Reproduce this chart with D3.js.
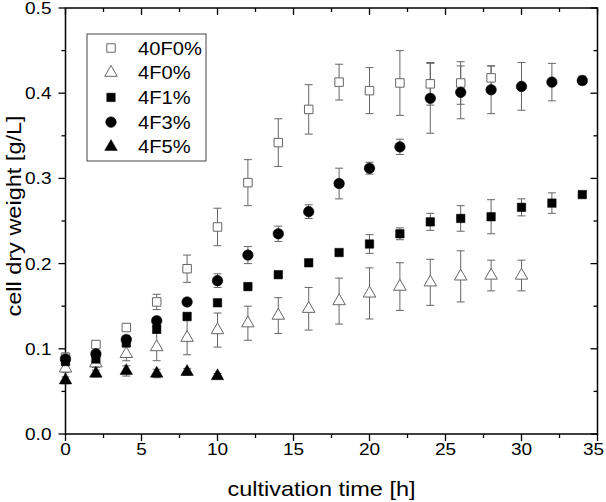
<!DOCTYPE html>
<html><head><meta charset="utf-8">
<script src="https://cdn.jsdelivr.net/npm/d3@7"></script>
<style>body{margin:0;background:#fff}svg{display:block}text{font-family:"Liberation Sans",Arial,sans-serif;fill:#000}</style>
</head><body><svg id="c" width="606" height="502"></svg>
<script>
const seriesNames = ["40F0%", "4F0%", "4F1%", "4F3%", "4F5%"];
const time40F0 = [0,2,4,6,8,10,12,14,16,18,20,22,24,26,28];
const val40F0 = [0.090,0.105,0.125,0.155,0.194,0.243,0.295,0.342,0.381,0.413,0.403,0.412,0.411,0.412,0.418];
const err40F0 = [0.005,0.003,0.004,0.009,0.016,0.022,0.027,0.028,0.029,0.021,0.027,0.038,0.025,0.025,0.014];
const time4F0 = [0,2,4,6,8,10,12,14,16,18,20,22,24,26,28,30];
const val4F0 = [0.077,0.083,0.094,0.102,0.113,0.122,0.130,0.139,0.147,0.156,0.165,0.173,0.178,0.185,0.186,0.186];
const err4F0 = [0.005,0.005,0.008,0.016,0.020,0.020,0.020,0.021,0.025,0.027,0.030,0.028,0.027,0.030,0.018,0.018];
const time4F1 = [0,2,4,6,8,10,12,14,16,18,20,22,24,26,28,30,32,34];
const val4F1 = [0.085,0.088,0.107,0.123,0.138,0.154,0.173,0.187,0.201,0.213,0.223,0.235,0.249,0.253,0.255,0.266,0.271,0.281];
const err4F1 = [0.004,0.003,0.004,0.004,0.004,0.004,0.004,0.003,0.003,0.003,0.011,0.007,0.010,0.015,0.020,0.010,0.012,0.003];
const time4F3 = [0,2,4,6,8,10,12,14,16,18,20,22,24,26,28,30,32,34];
const val4F3 = [0.088,0.094,0.111,0.133,0.155,0.180,0.210,0.235,0.261,0.294,0.312,0.337,0.394,0.401,0.404,0.408,0.413,0.415];
const err4F3 = [0.005,0.004,0.004,0.004,0.004,0.008,0.010,0.009,0.008,0.018,0.007,0.009,0.041,0.031,0.028,0.028,0.022,0.005];
const time4F5 = [0,2,4,6,8,10];
const val4F5 = [0.063,0.071,0.074,0.071,0.073,0.068];
const err4F5 = [0.004,0.004,0.006,0.005,0.004,0.003];
const xTicks = [0,5,10,15,20,25,30,35];
const yTicks = [0.0,0.1,0.2,0.3,0.4,0.5];

const series = [
  {name: seriesNames[0], t: time40F0, v: val40F0, e: err40F0, shape: "square", filled: false},
  {name: seriesNames[1], t: time4F0, v: val4F0, e: err4F0, shape: "triangle", filled: false},
  {name: seriesNames[2], t: time4F1, v: val4F1, e: err4F1, shape: "square", filled: true},
  {name: seriesNames[3], t: time4F3, v: val4F3, e: err4F3, shape: "circle", filled: true},
  {name: seriesNames[4], t: time4F5, v: val4F5, e: err4F5, shape: "triangle", filled: true}
];

const svg = d3.select("#c");
const L = 65.5, R = 597.5, T = 8, B = 434;
const x = d3.scaleLinear().domain([0,35]).range([L,R]);
const y = d3.scaleLinear().domain([0,0.5]).range([B,T]);
const SX = 1.12;

function txt(parent, px, py, s, size, anchor, rot){
  return parent.append("text")
    .attr("transform", `translate(${px},${py})` + (rot ? ` rotate(${rot})` : "") + ` scale(${SX},1)`)
    .attr("text-anchor", anchor).attr("font-size", size).text(s);
}

const minorX = d3.range(0,35.01,2.5);
const minorY = d3.range(0,0.501,0.05);

const g = svg.append("g").attr("stroke","#000").attr("stroke-width",1.3);
minorX.forEach(v=>{
  const major = Math.abs(v/5-Math.round(v/5))<1e-6;
  const len = major?7:4;
  g.append("line").attr("x1",x(v)).attr("x2",x(v)).attr("y1",B).attr("y2",B+len);
  g.append("line").attr("x1",x(v)).attr("x2",x(v)).attr("y1",T).attr("y2",T+len);
});
minorY.forEach(v=>{
  const major = Math.abs(v*10-Math.round(v*10))<1e-6;
  const len = major?7:4;
  g.append("line").attr("x1",L).attr("x2",L-len).attr("y1",y(v)).attr("y2",y(v));
  g.append("line").attr("x1",R).attr("x2",R-len).attr("y1",y(v)).attr("y2",y(v));
});
svg.append("rect").attr("x",L).attr("y",T).attr("width",R-L).attr("height",B-T)
  .attr("fill","none").attr("stroke","#000").attr("stroke-width",1.5);

xTicks.forEach(v=>{ txt(svg, Math.min(x(v), 593.5), B+21, d3.format("d")(v), 17, "middle"); });
yTicks.forEach(v=>{ txt(svg, L-14, y(v)+6, d3.format(".1f")(v), 17, "end"); });
txt(svg, (L+R)/2 - 10, 496, "cultivation time [h]", 21, "middle");
txt(svg, 21, (T+B)/2 - 5, "cell dry weight [g/L]", 21, "middle", -90);

const sym = {
  square: d3.symbol().type(d3.symbolSquare).size(72),
  circle: d3.symbol().type(d3.symbolCircle).size(88),
  triangle: d3.symbol().type(d3.symbolTriangle).size(68)
};
function drawSym(sel, s){
  sel.attr("d", sym[s.shape]())
    .attr("fill", s.filled ? "#000" : "#fff")
    .attr("stroke", s.filled ? "#000" : "#666")
    .attr("stroke-width", s.filled ? 0.5 : 1);
}

const eg = svg.append("g").attr("stroke","#666").attr("stroke-width",1);
series.forEach(s=>{
  s.t.forEach((t,i)=>{
    const cx = x(t), y1 = y(s.v[i]+s.e[i]), y2 = y(s.v[i]-s.e[i]);
    eg.append("line").attr("x1",cx).attr("x2",cx).attr("y1",y1).attr("y2",y2);
    eg.append("line").attr("x1",cx-4).attr("x2",cx+4).attr("y1",y1).attr("y2",y1);
    eg.append("line").attr("x1",cx-4).attr("x2",cx+4).attr("y1",y2).attr("y2",y2);
  });
});
series.forEach(s=>{
  const sg = svg.append("g");
  s.t.forEach((t,i)=>{
    const p = sg.append("path").attr("transform",`translate(${x(t)},${y(s.v[i])})`);
    drawSym(p, s);
  });
});

const lg = svg.append("g");
lg.append("rect").attr("x",87).attr("y",34).attr("width",119).attr("height",127)
  .attr("fill","#fff").attr("stroke","#444").attr("stroke-width",1);
series.forEach((s,i)=>{
  const yy = 48 + i*24.7;
  const p = lg.append("path").attr("transform",`translate(111,${yy})`);
  drawSym(p, s);
  txt(lg, 138, yy+6.5, s.name, 18, "start");
});
</script></body></html>
